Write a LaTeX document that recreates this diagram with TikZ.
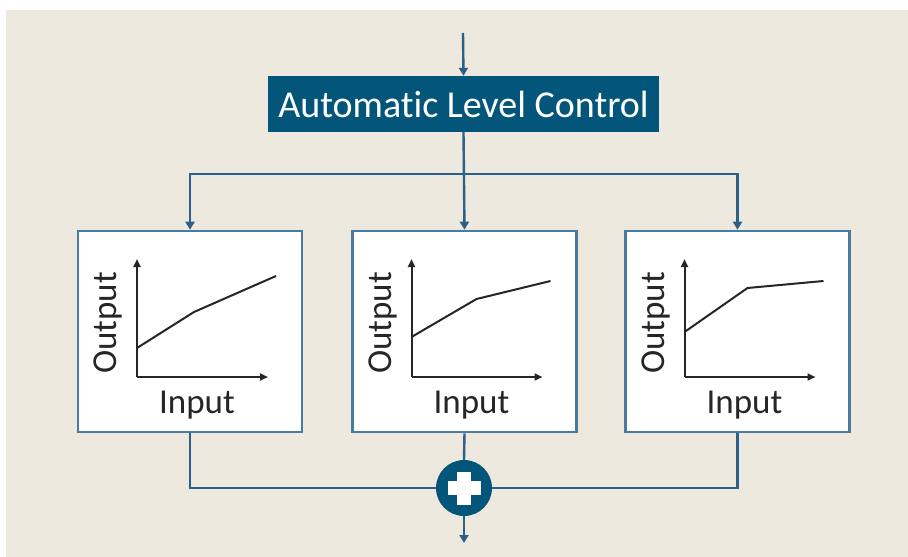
\documentclass[tikz,border=0pt]{standalone}
\usepackage{fontspec}
\setmainfont{Carlito}[RawFeature={-liga;-clig;-calt;-dlig}]
\usetikzlibrary{arrows.meta,positioning}
\definecolor{bg}{HTML}{EDE9DF}
\definecolor{alcblue}{HTML}{03557A}
\definecolor{wire}{HTML}{2A6089}
\definecolor{frame}{HTML}{4A7B9F}
\definecolor{ink}{HTML}{262626}
\begin{document}
\begin{tikzpicture}[x=1pt, y=-1pt,
  ctl/.style={fill=alcblue, text=white, font=\fontsize{38}{40}\selectfont,
    minimum width=391pt, minimum height=56pt, inner sep=0pt},
  gbox/.style={draw=frame, line width=2.6pt, fill=white,
    minimum width=224pt, minimum height=201pt, inner sep=0pt},
  sumnode/.style={circle, fill=alcblue, minimum size=56pt, inner sep=0pt},
  wr/.style={draw=wire, line width=2.4pt},
  ar/.style={wr, -{Triangle[length=8pt, width=9pt]}},
  ax/.style={ink, line width=2pt, -{Triangle[length=8pt, width=7pt]}},
  lbl/.style={ink, font=\fontsize{35}{37}\selectfont, inner sep=0pt}]
\useasboundingbox (0,0) rectangle (908,557);
\fill[bg] (6,10) rectangle (908,557);
% blocks
\node[ctl] (alc) at (463.5,104) {Automatic Level Control};
\node[gbox] (g1) at (190,331.5) {};
\node[gbox] (g2) at (464.5,331.5) {};
\node[gbox] (g3) at (737.5,331.5) {};
\node[sumnode] (sum) at (464,488) {};
\fill[white] (sum) ++(-16.5,-7) rectangle ++(33,14);
\fill[white] (sum) ++(-7,-16.5) rectangle ++(14,33);
\coordinate (src) at (463,33);
\coordinate (split) at (463,174);
\coordinate (dst) at (464,543);
% transfer curves
\foreach \b/\ya/\xb/\yb/\yc in {1/29/57/65/101, 2/40/65/78/96, 3/45/63/89/96}{
  \coordinate (o\b) at ([shift={(-53,45.5)}]g\b.center);
  \draw[ax] (o\b) -- ++(0,-118);
  \draw[ax] (o\b) -- ++(131,0);
  \draw[ink, line width=2pt] ([shift={(0,-\ya)}]o\b) -- ([shift={(\xb,-\yb)}]o\b) -- ([shift={(139,-\yc)}]o\b);
  \node[lbl, rotate=90] at ([shift={(-29,-54)}]o\b) {Output};
  \node[lbl] at ([shift={(60,28)}]o\b) {Input};
}
% connectors
\draw[ar] (src) -- (alc.north);
\draw[ar] (alc.south) -- (g2.north);
\draw[ar] (split) -| (g1.north);
\draw[ar] (split) -| (g3.north);
\draw[wr] (g1.south) |- (sum.west);
\draw[wr] (g3.south) |- (sum.east);
\draw[wr] (g2.south) -- (sum.north);
\draw[ar] (sum.south) -- (dst);
\end{tikzpicture}
\end{document}
